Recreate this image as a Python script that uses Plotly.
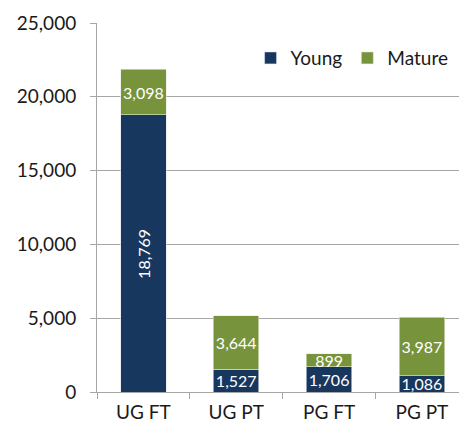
import plotly.graph_objects as go

categories = ["UG FT", "UG PT", "PG FT", "PG PT"]
young = [18769, 1527, 1706, 1086]
mature = [3098, 3644, 899, 3987]
y_ticks = [0, 5000, 10000, 15000, 20000, 25000]

FONT = "Lato"
NAVY = "#17375E"
GREEN = "#77933C"

young_text = ["" if i == 0 else f"{v:,}" for i, v in enumerate(young)]
mature_text = [f"{v:,}" for v in mature]

fig = go.Figure()
fig.add_trace(go.Bar(
    x=categories, y=young, name="Young", marker=dict(color=NAVY, line=dict(color="#dfe6ee", width=0.6)),
    text=young_text, textposition="inside", insidetextanchor="middle", textangle=0,
    constraintext="none", cliponaxis=False,
    textfont=dict(family=FONT, size=16, color="white"), width=0.49,
))
fig.add_trace(go.Bar(
    x=categories, y=mature, name="Mature", marker=dict(color=GREEN, line=dict(color="#e6ecdc", width=0.6)),
    text=mature_text, textposition="inside", insidetextanchor="middle", textangle=0,
    constraintext="none", cliponaxis=False,
    textfont=dict(family=FONT, size=16, color="white"), width=0.49,
))
fig.add_annotation(
    x=categories[0], y=young[0] / 2, text=f"{young[0]:,}", textangle=-90, showarrow=False,
    font=dict(family=FONT, size=16, color="white"),
)

fig.update_layout(
    barmode="stack",
    width=459, height=428,
    margin=dict(l=97, r=0, t=23, b=36, autoexpand=False),
    paper_bgcolor="white", plot_bgcolor="white",
    font=dict(family=FONT, size=19, color="#1a1a1a"),
    showlegend=True,
    legend=dict(orientation="h", x=0.985, y=0.905, xanchor="right", yanchor="middle",
                font=dict(family=FONT, size=19, color="#1a1a1a"), bgcolor="rgba(0,0,0,0)",
                itemwidth=30, traceorder="normal"),
    xaxis=dict(range=[-0.5, 3.4], type="category", showline=True, linecolor="#a6a6a6", linewidth=1,
               ticks="outside", tickson="boundaries", ticklen=6, tickcolor="#a6a6a6", automargin=False,
               ticklabelstandoff=3,
               showgrid=False, tickfont=dict(family=FONT, size=19, color="#1a1a1a")),
    yaxis=dict(range=[0, 25000], tickvals=y_ticks, tickformat=",", showline=True, linecolor="#a6a6a6",
               linewidth=1, ticks="outside", ticklen=6, tickcolor="#a6a6a6", showgrid=True,
               gridcolor="#a6a6a6", gridwidth=1, zeroline=False, automargin=False,
               ticklabelstandoff=10,
               tickfont=dict(family=FONT, size=19, color="#1a1a1a")),
)

fig.write_html("out.html", config={"displayModeBar": False},
               post_script="document.body.style.margin='0';document.body.style.overflow='hidden';")
